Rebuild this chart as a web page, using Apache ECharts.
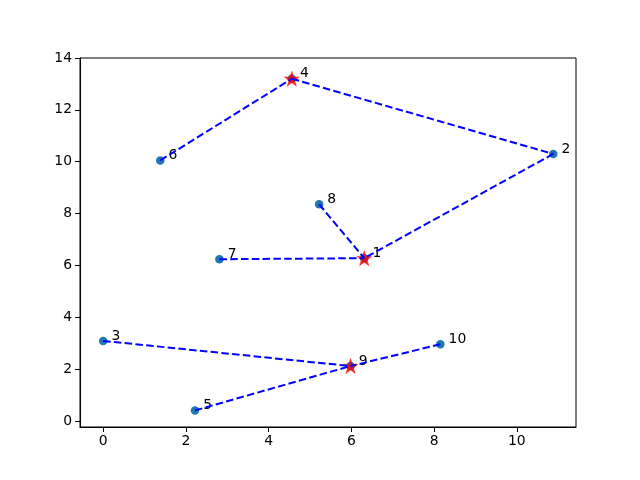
<!DOCTYPE html>
<html>
<head>
<meta charset="utf-8">
<script src="https://cdn.jsdelivr.net/npm/echarts@6/dist/echarts.min.js"></script>
<style>html,body{margin:0;padding:0;background:#fff;}#c{width:640px;height:480px;}</style>
</head>
<body>
<div id="c"></div>
<script>
// point data
const pointLabels = ['1','2','3','4','5','6','7','8','9','10'];
const xs = [6.31, 10.88, 0.00, 4.56, 2.22, 1.38, 2.81, 5.22, 5.98, 8.15];
const ys = [6.28, 10.30, 3.09, 13.20, 0.41, 10.05, 6.24, 8.36, 2.12, 2.96];
// indices (0-based) of the centre points drawn as stars
const centers = [3, 0, 8];
// which point each point is linked to (its centre)
const links = [[5,3],[3,1],[1,0],[7,0],[6,0],[2,8],[4,8],[9,8]];
const xTicks = [0, 2, 4, 6, 8, 10];
const yTicks = [0, 2, 4, 6, 8, 10, 12, 14];

const font = 'DejaVu Sans';
const circleData = xs.map((x, i) => ({ value: [x, ys[i]], name: pointLabels[i] }));
const starData = centers.map(i => [xs[i], ys[i]]);
const lineSeries = links.map(([a, b]) => ({
  type: 'line',
  data: [[xs[a], ys[a]], [xs[b], ys[b]]],
  showSymbol: false,
  symbol: 'none',
  silent: true,
  animation: false,
  z: 4,
  lineStyle: { color: '#0000ff', width: 2, type: [7.5, 3.3] }
}));

const chart = echarts.init(document.getElementById('c'), null, { renderer: 'canvas' });
chart.setOption({
  animation: false,
  backgroundColor: '#ffffff',
  grid: { left: 80, right: 64, top: 58, bottom: 53, show: true, borderColor: '#000', borderWidth: 1, backgroundColor: 'transparent' },
  xAxis: {
    type: 'value', min: -0.56, max: 11.43,
    axisLine: { show: true, onZero: false, lineStyle: { color: '#000', width: 1 } },
    axisTick: { show: true, length: 5, lineStyle: { color: '#000' }, customValues: xTicks },
    axisLabel: { color: '#000', fontFamily: font, fontSize: 13.9, margin: 7, customValues: xTicks },
    splitLine: { show: false }
  },
  yAxis: {
    type: 'value', min: -0.23, max: 14.0,
    axisLine: { show: true, onZero: false, lineStyle: { color: '#000', width: 1 } },
    axisTick: { show: true, length: 5, lineStyle: { color: '#000' }, customValues: yTicks },
    axisLabel: { color: '#000', fontFamily: font, fontSize: 13.9, margin: 8, customValues: yTicks },
    splitLine: { show: false }
  },
  series: [
    {
      type: 'scatter',
      data: circleData,
      symbol: 'circle',
      symbolSize: 8.5,
      z: 2,
      itemStyle: { color: '#1f77b4', opacity: 1 },
      label: {
        show: true, position: 'right', distance: 4, offset: [0, -5],
        formatter: p => p.name, color: '#000', fontFamily: font, fontSize: 13.9
      }
    },
    {
      type: 'scatter',
      data: starData,
      symbol: 'path://M0,-1 L0.2245,-0.309 L0.951,-0.309 L0.363,0.118 L0.588,0.809 L0,0.382 L-0.588,0.809 L-0.363,0.118 L-0.951,-0.309 L-0.2245,-0.309 Z',
      symbolSize: 15,
      z: 3,
      itemStyle: { color: '#ff0000', borderColor: '#ff0000', borderWidth: 0.5 }
    }
  ].concat(lineSeries)
});
</script>
</body>
</html>
